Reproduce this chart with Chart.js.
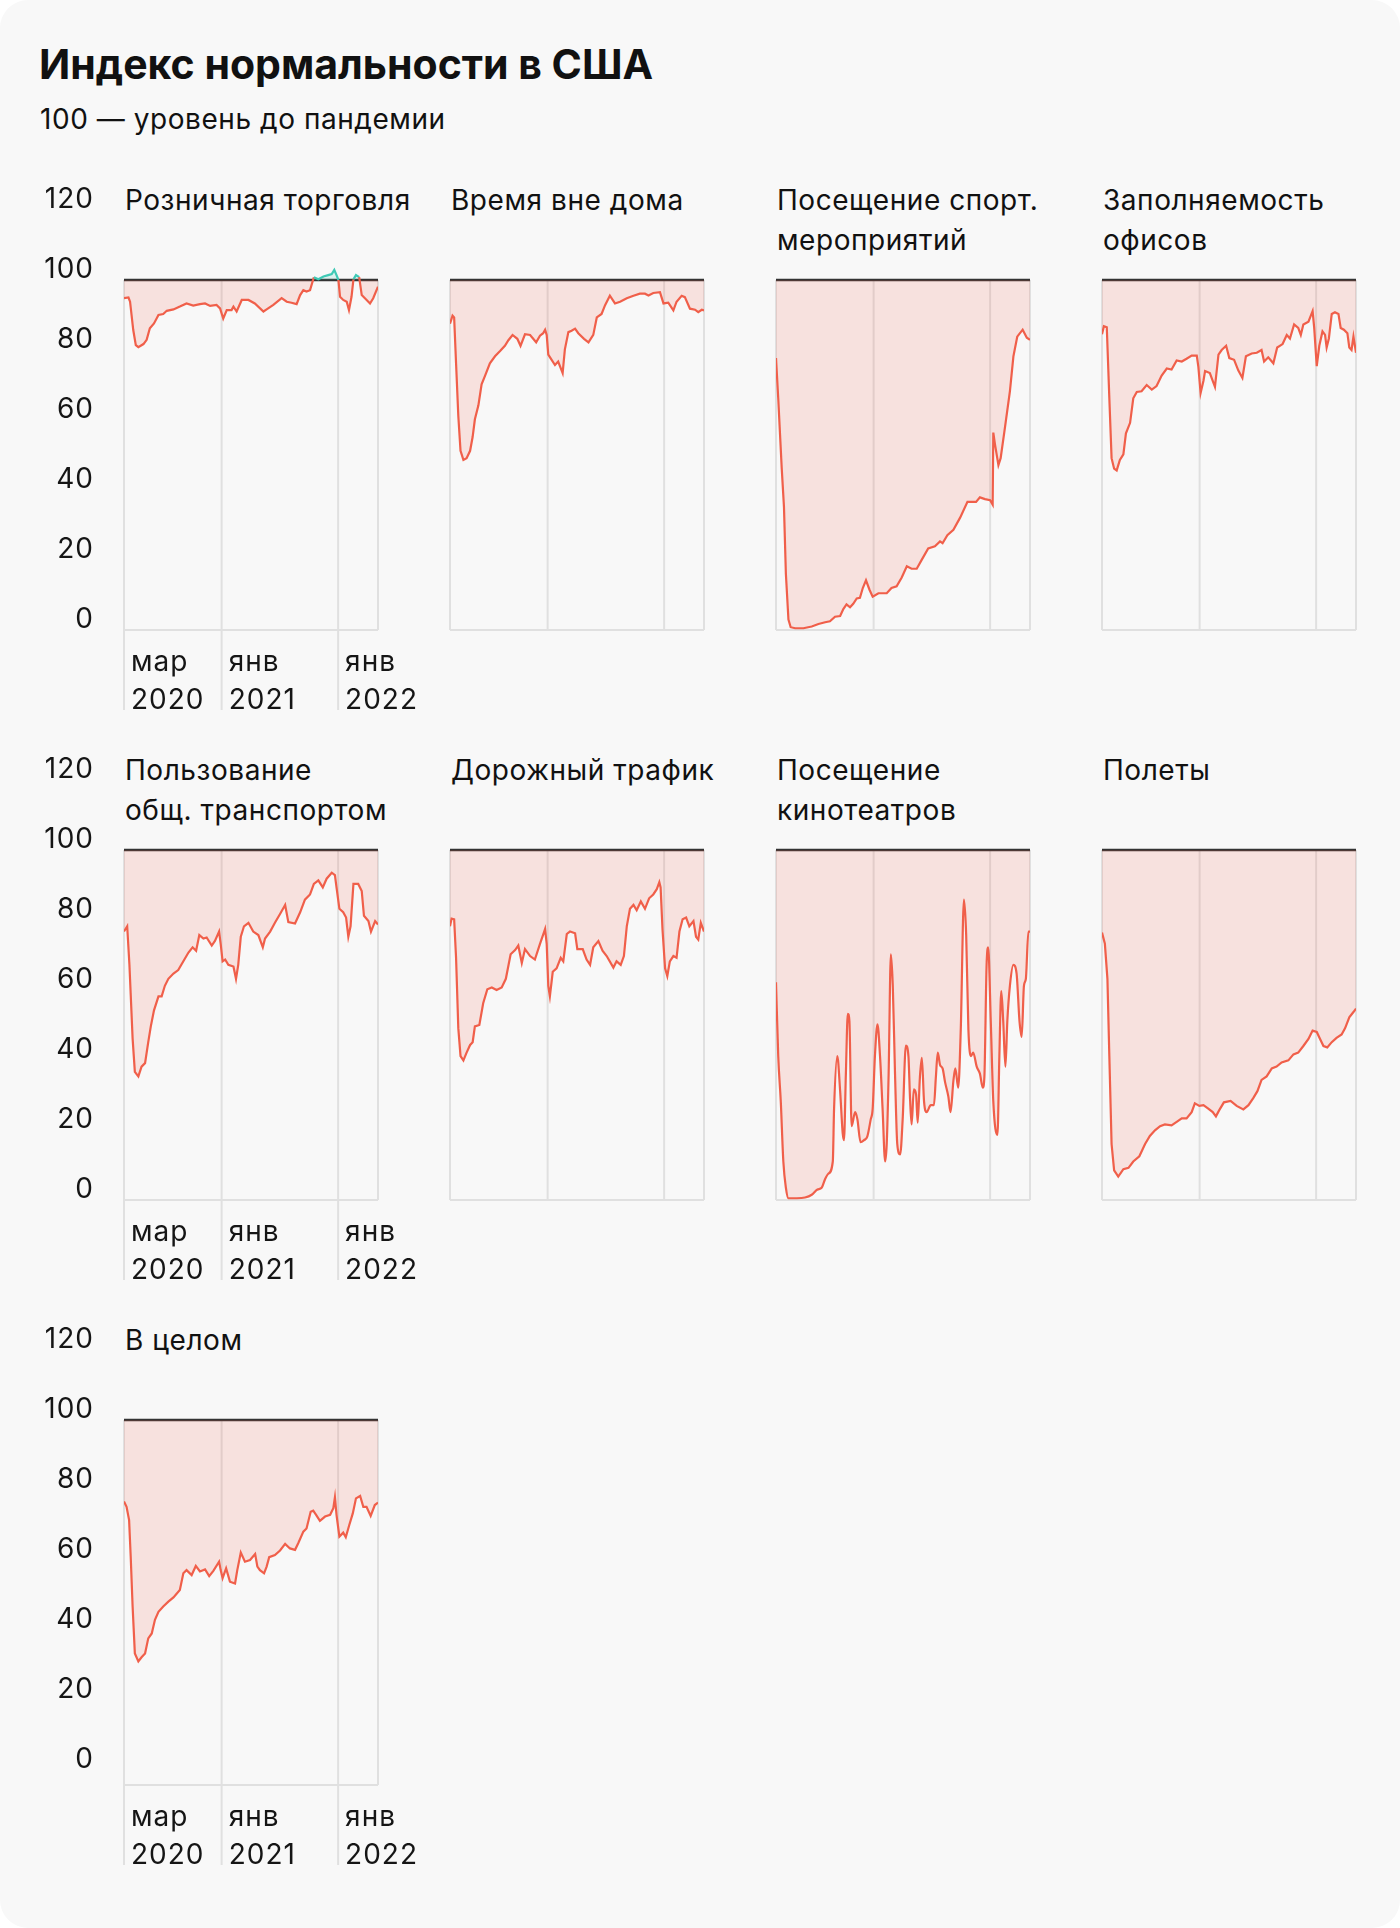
<!DOCTYPE html>
<html lang="ru">
<head>
<meta charset="utf-8">
<script src="https://cdn.jsdelivr.net/npm/chart.js@4.4.1/dist/chart.umd.min.js"></script>
<style>
  html, body { margin: 0; padding: 0; background: #ffffff; }
  #card { position: relative; width: 1400px; height: 1928px; background: #f8f8f8; border-radius: 28px; overflow: hidden; font-family: Inter, "Noto Sans", sans-serif; color: #111; }
  .h1 { position: absolute; left: 39px; top: 40px; font-size: 41px; line-height: 48px; font-weight: 700; letter-spacing: 0px; white-space: nowrap; }
  .sub { position: absolute; left: 40px; top: 99px; font-size: 28px; line-height: 40px; letter-spacing: 0.55px; white-space: nowrap; }
  .ptitle { position: absolute; font-size: 28px; line-height: 40px; letter-spacing: 0.55px; white-space: nowrap; }
  canvas { position: absolute; }
</style>
</head>
<body>
<div id="card">
  <div class="h1">Индекс нормальности в США</div>
  <div class="sub">100 — уровень до пандемии</div>
</div>
<script>
// ---- data (x = days since 1 March 2020) ----
const xTickDays = [0, 306, 671];
const xTickLabels = [['мар', '2020'], ['янв', '2021'], ['янв', '2022']];
const yTickValues = [0, 20, 40, 60, 80, 100, 120];
const baselineValue = 100;
const lastDay = 796;

const retailDays = [0,14,19,29,37,45,61,71,81,94,108,123,134,155,175,196,217,238,254,270,290,301,311,322,337,343,353,369,390,410,437,447,468,494,510,525,541,552,562,572,583,595,609,625,640,651,659,666,672,677,687,698,705,713,719,727,737,745,755,771,781,796];
const retailValues = [94.8,95,93.8,85.7,81.4,80.8,81.7,82.9,86.2,87.6,90,90.3,91.2,91.6,92.4,93.3,92.7,93.1,93.3,92.6,92.9,91.9,89,91.4,91.4,92.4,91,94.3,94.3,93.3,91,91.6,92.9,94.8,93.8,93.5,93.1,95.7,97.1,96.7,97.1,100.8,100.2,101,101.4,101.7,102.9,101.4,100,95.2,94.3,93.8,91.4,95.2,100.2,101.4,100.8,95.7,94.8,93.3,94.8,98.1];

const awayDays = [0,8,13,19,26,33,42,52,63,71,78,89,99,110,125,141,157,172,183,196,211,221,235,251,270,282,292,298,303,308,315,329,339,353,360,371,381,392,402,420,434,449,460,475,486,501,517,533,554,575,595,611,622,637,658,669,684,700,710,726,736,752,768,778,789,796];
const awayValues = [87.5,89.8,89.3,76.2,61.2,51.2,48.6,49.1,51.2,55.2,60.2,64.2,70.2,72.7,76.2,78.2,79.7,81.2,82.8,84.3,83.2,81.2,84.5,84.3,82.2,84.1,84.8,85.8,84.3,78.7,77.7,75.7,76.7,73.4,80.2,85.1,85.5,86.1,84.8,83.2,82.2,84.3,89.3,90.3,92.8,95.5,93.3,93.8,94.8,95.5,96.1,96.1,95.6,96.3,96.5,93.3,93.5,91.3,93.8,95.5,95.1,91.8,91.5,90.8,91.5,91.3];

const sportsDays = [0,7,18,25,31,39,46,60,86,112,133,154,169,185,201,211,221,232,242,253,263,272,282,293,303,321,331,347,362,378,394,410,425,441,457,477,498,514,522,537,556,577,600,627,639,655,671,679,681,686,697,704,718,733,744,756,773,786,796];
const sportsValues = [77.7,66.2,46.1,35.1,16,3,0.8,0.5,0.5,1,1.7,2.2,2.5,3.8,4,6,7.3,6.5,7.5,9,9.2,12,14.2,11.5,9.5,10.5,10.5,10.5,12,12.5,15,18.2,17.5,17.5,20.1,23.3,23.9,25.3,24.8,27.1,28.6,32.1,36.6,36.6,37.9,37.4,37.1,35.8,56.4,53.2,47.1,49.1,58.2,68.2,78.2,83.8,85.8,83.5,82.9];

const officeDays = [0,6,15,23,30,38,46,56,67,75,88,98,109,124,140,156,171,187,203,218,234,250,265,281,297,302,309,318,323,338,347,354,365,375,389,399,414,427,440,451,469,485,500,508,521,537,549,566,579,589,602,615,623,631,647,660,665,673,681,691,699,704,711,720,730,741,748,758,769,775,782,788,796];
const officeValues = [84.5,86.8,86.5,66.2,49.1,46.1,45.6,48.6,50.2,56.2,59.2,66.2,68,68.2,70,68.7,69.7,72.7,74.7,74.4,77,76.7,77.5,78.4,78.4,75.2,67.7,71.2,74,73.4,71.2,69.5,78.7,80,81.2,77.7,77.2,74.2,72,78.2,79,79.2,80,76.7,77.9,76.2,80.7,81.7,84.3,83.3,87.3,86.3,84.3,87.3,88.1,91.1,86.3,75.4,81.2,85.3,84.3,80.7,83.3,90.3,90.8,90.3,86.3,85.8,84.8,80.7,80,83.8,79.2];

const transitDays = [0,10,17,27,34,45,55,66,76,84,94,108,118,128,139,155,170,186,202,215,226,236,249,259,275,285,298,303,309,317,327,343,351,358,366,376,390,405,421,435,442,458,473,489,505,515,536,552,567,583,595,609,623,635,651,661,666,675,687,696,703,710,719,734,745,752,766,774,787,796];
const transitValues = [76.7,78.2,67.2,46.1,36.6,35.3,38.1,39.1,45.1,49.6,54.2,58.2,58.2,61.2,63.2,64.7,65.7,68.2,70.7,72.2,71.2,75.7,74.7,75,72.7,74,76.7,73.2,68.2,68.7,67.2,66.7,63.2,67.2,75.2,78.2,79.2,76.7,75.7,72.2,74.7,76.7,79.2,81.7,84.3,79.4,79,82.2,85.8,87.3,90.3,91.3,89.3,91.8,93.5,92.8,89.3,83.2,82.2,80.7,75.2,78.2,90.3,90.3,88.3,81.2,79.7,76.7,79.7,78.7];

const trafficDays = [0,5,13,19,26,33,42,52,63,71,78,92,104,117,131,146,162,175,190,204,214,225,235,251,266,282,298,303,308,313,322,334,347,355,366,376,392,399,416,428,439,449,465,478,491,512,522,535,545,554,564,575,585,598,611,624,637,648,656,660,666,674,681,689,700,710,719,729,740,750,763,771,778,786,796];
const trafficValues = [78.2,80.4,80.2,69.2,49.1,41.1,39.9,42.1,44.3,45.1,49.6,50,56.2,60.2,60.7,60,60.7,63.2,70.2,71.4,72.7,67.7,71.7,69.7,68.7,73.2,77.4,73.2,61.2,58.2,65.2,66.2,69.2,68.2,76,76.7,76.2,71.7,71.7,68.7,67.2,72.2,74,71.2,69.7,66.4,68.2,67.2,69.7,78.2,83.2,84.3,82.8,85.3,83.2,86.2,87.3,88.8,90.8,89.3,77.2,66.2,64,68.2,69.7,69.2,76.7,80.2,80.7,78.2,79.7,75.2,74.4,79.2,76.7];

const cinemaDays = [0,7,15,23,31,39,65,91,112,130,143,154,164,178,182,192,201,209,213,219,225,230,237,248,255,265,276,286,297,303,310,318,326,334,342,347,353,360,366,373,380,389,397,407,415,420,425,432,439,444,451,457,464,472,485,495,501,507,514,522,530,540,547,556,562,571,579,589,596,603,611,618,629,639,648,653,660,665,673,681,694,700,706,712,719,725,733,744,754,763,770,777,783,791,796];
const cinemaValues = [62.2,41.1,28.1,11,3.5,0.5,0.5,0.7,1.5,3,3.5,6,7.5,11,26.1,41.1,31.1,19.1,17.1,36.1,53.2,51.2,21.1,25.1,23.1,16.5,17.1,18.1,23.1,26.1,41.1,50.2,41.1,26.1,11,16,36.1,70.2,61.2,36.1,16,13,23.1,44.1,41.1,29.1,21.6,31.6,30.1,22.1,35.1,40.6,28.1,25.1,27.1,27.1,35.1,42.1,38.6,37.6,33.6,29.6,25.1,34.1,37.6,32.1,48.6,85.8,75.7,48.6,41.1,42.1,38.1,36.1,32.1,35.1,67.2,72.2,51.2,28.1,18.6,41.1,59.7,51.2,38.1,51.2,61.2,67.2,64.7,51.2,46.6,61.2,63.2,76.7,76.7];

const flightDays = [0,9,17,23,30,38,51,67,83,98,117,135,150,166,182,197,218,234,250,265,281,291,305,318,333,347,357,367,382,403,422,443,459,474,487,500,516,532,547,563,584,600,615,631,647,660,673,683,694,706,720,735,751,762,775,788,796];
const flightValues = [76.4,73.2,63.2,41.1,16,8.5,6.7,8.8,9.2,11,12.5,16,18.3,19.9,21.1,21.6,21.3,22.3,23.3,23.3,25.1,27.6,26.9,27.1,26.1,25.1,23.9,25.6,27.9,28.3,26.9,25.9,27.1,29.1,31.1,34.3,35.3,37.6,38.1,39.3,39.9,41.6,42.1,44,46,48.4,48,46.1,44,43.6,45.1,46.3,47.3,49.1,52.2,53.7,54.7];

const overallDays = [0,8,16,21,27,34,45,55,66,76,87,97,108,123,139,155,175,186,196,212,225,238,254,267,280,298,303,309,320,332,348,355,366,379,395,411,418,426,439,447,455,473,489,505,520,536,546,562,572,585,593,602,614,630,646,656,661,666,675,687,695,706,717,727,740,750,760,773,786,796];
const overallValues = [76.7,75.2,71.4,61,46.7,33.3,31,32.2,33.3,37.6,39,42.9,45.2,46.7,48.1,49.3,51.4,56.2,57.1,55.7,58.3,56.7,57.3,55.4,56.9,59.5,57.1,54.8,57.6,53.8,53.3,57.1,62.1,59.5,60,61.7,58.1,57.1,56.2,58.1,60.8,61.4,62.7,64.6,63.3,62.9,64.8,68.1,69,73.8,74.1,72.9,71.2,72.4,72.9,74.8,77.9,72.9,66.7,67.8,66.5,70,73.3,77.6,78.3,75.2,75.2,72.6,75.7,76.4];

const panelTitles = ['Розничная торговля', 'Время вне дома', 'Посещение спорт.<br>мероприятий', 'Заполняемость<br>офисов',
  'Пользование<br>общ. транспортом', 'Дорожный трафик', 'Посещение<br>кинотеатров', 'Полеты', 'В целом'];
const panelDays = [retailDays, awayDays, sportsDays, officeDays, transitDays, trafficDays, cinemaDays, flightDays, overallDays];
const panelValues = [retailValues, awayValues, sportsValues, officeValues, transitValues, trafficValues, cinemaValues, flightValues, overallValues];

// ---- styles / layout ----
const RED = '#f05f4a';
const TEAL = '#3fc9b5';
const FILL_BELOW = 'rgba(240,95,74,0.15)';
const FILL_ABOVE = 'rgba(63,201,181,0.15)';
const GRID = '#e0e0e0';
const INK = '#151515';
const FONT = 'Inter, "Noto Sans", sans-serif';

Chart.defaults.font.family = FONT;
Chart.defaults.color = INK;

const framePlugin = {
  id: 'frame',
  beforeDraw(chart) {
    try { chart.ctx.letterSpacing = '1px'; } catch (e) {}
  },
  beforeDatasetsDraw(chart, args, opts) {
    const { ctx, chartArea: ca, scales: { x, y } } = chart;
    const top = y.getPixelForValue(baselineValue);
    ctx.save();
    ctx.strokeStyle = GRID;
    ctx.lineWidth = 2;
    ctx.beginPath();
    ctx.moveTo(ca.left, ca.bottom); ctx.lineTo(ca.right, ca.bottom);
    x.ticks.forEach(t => {
      const px = x.getPixelForValue(t.value);
      ctx.moveTo(px, top); ctx.lineTo(px, ca.bottom + (opts.ext || 0));
    });
    const pr = x.getPixelForValue(x.max);
    ctx.moveTo(pr, top); ctx.lineTo(pr, ca.bottom);
    ctx.stroke();
    ctx.restore();
  }
};

const card = document.getElementById('card');
const COL_X = [124, 450, 776, 1102];
const PLOT_W = 254;
const AXIS_W = 90;
const RIGHT_PAD = 72;
const TOP_PAD = 30;
const XAXIS_H = 100;

panelTitles.forEach((title, i) => {
  const col = i % 4, row = Math.floor(i / 4);
  const y100 = 280 + 570 * row;
  const y120 = y100 - 70;
  const yBottom = y100 + (row === 2 ? 365 : 350);
  const yMin = row === 2 ? -4.3 : 0;
  const showAxes = col === 0;

  const t = document.createElement('div');
  t.className = 'ptitle';
  t.style.left = (COL_X[col] + 1) + 'px';
  t.style.top = (y120 - 30) + 'px';
  t.innerHTML = title;
  card.appendChild(t);

  const cv = document.createElement('canvas');
  const W = AXIS_W + PLOT_W + RIGHT_PAD;
  const H = TOP_PAD + (yBottom - y120) + XAXIS_H;
  cv.width = W; cv.height = H;
  cv.style.width = W + 'px'; cv.style.height = H + 'px';
  cv.style.left = (COL_X[col] - AXIS_W) + 'px';
  cv.style.top = (y120 - TOP_PAD) + 'px';
  card.appendChild(cv);

  const points = panelDays[i].map((d, k) => ({ x: d, y: panelValues[i][k] }));
  const refLine = [{ x: 0, y: baselineValue }, { x: lastDay, y: baselineValue }];
  const smooth = (i === 6);

  new Chart(cv.getContext('2d'), {
    type: 'line',
    data: {
      datasets: [
        { data: refLine, borderColor: '#333333', borderWidth: 2.5, pointRadius: 0, fill: false, order: 2 },
        {
          data: points, borderColor: RED, borderWidth: 2.2, pointRadius: 0, order: 1,
          tension: smooth ? 0.4 : 0, cubicInterpolationMode: smooth ? 'monotone' : 'default',
          fill: { target: { value: baselineValue }, above: FILL_ABOVE, below: FILL_BELOW },
          segment: {
            borderColor: c => (c.p0.parsed.y >= 99.9 && c.p1.parsed.y >= 99.9) ? TEAL : RED
          }
        }
      ]
    },
    options: {
      responsive: false,
      animation: false,
      events: [],
      devicePixelRatio: 1,
      layout: { padding: { top: TOP_PAD, left: 0, right: RIGHT_PAD, bottom: 0 } },
      plugins: { legend: { display: false }, tooltip: { enabled: false }, frame: { ext: showAxes ? 80 : 0 } },
      scales: {
        x: {
          type: 'linear', min: 0, max: lastDay,
          grid: { display: false, drawTicks: false },
          border: { display: false },
          ticks: {
            display: showAxes, autoSkip: false, maxRotation: 0, minRotation: 0,
            align: 'start', labelOffset: 7, padding: 14,
            font: { size: 28, lineHeight: 1.357 }, color: INK,
            callback: (v, idx) => xTickLabels[idx]
          },
          afterBuildTicks: s => { s.ticks = xTickDays.map(v => ({ value: v })); },
          afterFit: s => { s.height = XAXIS_H; s.paddingLeft = 0; s.paddingRight = 0; }
        },
        y: {
          min: yMin, max: 120,
          grid: { display: false, drawTicks: false },
          border: { display: false },
          ticks: { display: showAxes, padding: 30, labelOffset: -10, font: { size: 28 }, color: INK },
          afterBuildTicks: s => { s.ticks = yTickValues.map(v => ({ value: v })); },
          afterFit: s => { s.width = AXIS_W; s.paddingTop = 0; s.paddingBottom = 0; }
        }
      }
    },
    plugins: [framePlugin]
  });
});
</script>
</body>
</html>
